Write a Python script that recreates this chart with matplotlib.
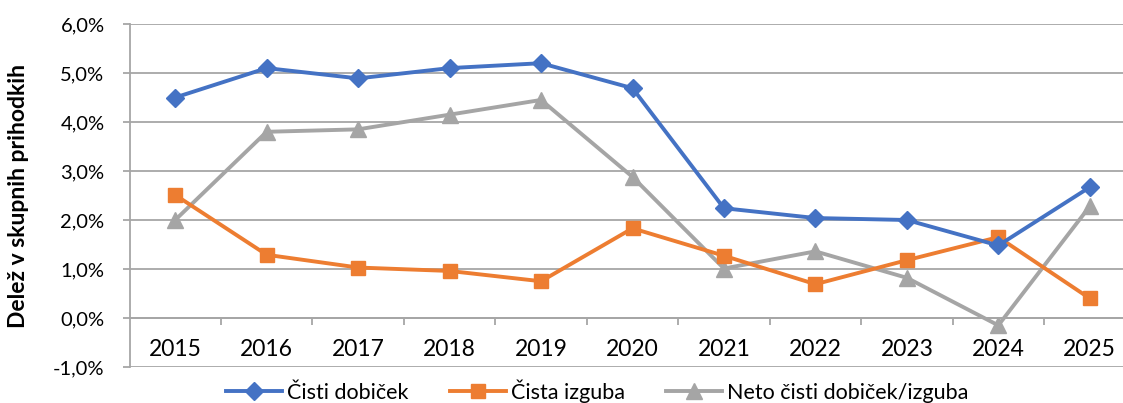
import matplotlib
matplotlib.use("Agg")
import matplotlib.pyplot as plt
from matplotlib.ticker import FixedLocator, FuncFormatter

years = ["2015", "2016", "2017", "2018", "2019", "2020", "2021", "2022", "2023", "2024", "2025"]
cisti_dobicek = [4.50, 5.10, 4.89, 5.10, 5.20, 4.69, 2.24, 2.04, 2.00, 1.48, 2.67]
cista_izguba = [2.51, 1.29, 1.03, 0.96, 0.75, 1.83, 1.27, 0.69, 1.18, 1.65, 0.40]
neto = [2.00, 3.80, 3.85, 4.15, 4.45, 2.88, 1.01, 1.36, 0.82, -0.15, 2.28]
series_names = ["Čisti dobiček", "Čista izguba", "Neto čisti dobiček/izguba"]
ylabel = "Delež v skupnih prihodkih"

plt.rcParams['font.family'] = ['Lato', 'DejaVu Sans']

W, H = 1123, 403
fig = plt.figure(figsize=(W / 100, H / 100), dpi=100)
left, right, top, bottom = 129.5, 1135.5, 24, 367
ax = fig.add_axes([left / W, 1 - bottom / H, (right - left) / W, (bottom - top) / H])

x = list(range(len(years)))
blue, orange, gray = "#4472C4", "#ED7D31", "#A5A5A5"
ax.plot(x, cisti_dobicek, color=blue, lw=2.8, marker="D", ms=9, label=series_names[0], zorder=5)
ax.plot(x, cista_izguba, color=orange, lw=2.8, marker="s", ms=10.5, label=series_names[1], zorder=4)
ax.plot(x, neto, color=gray, lw=2.8, marker="^", ms=12, label=series_names[2], zorder=3)

ax.set_xlim(-0.5, len(years) - 0.5)
ax.set_ylim(-1, 6)
yt = [-1, 0, 1, 2, 3, 4, 5, 6]
ax.yaxis.set_major_locator(FixedLocator(yt))
ax.yaxis.set_major_formatter(FuncFormatter(lambda v, p: f"{v:.1f}%".replace(".", ",")))
ax.grid(axis="y", color="#A6A6A6", lw=1.3)
ax.set_axisbelow(True)

for s in ["top", "right"]:
    ax.spines[s].set_visible(False)
ax.spines["left"].set_color("#A6A6A6")
ax.spines["left"].set_linewidth(1.3)
ax.spines["bottom"].set_position(("data", 0))
ax.spines["bottom"].set_color("#A6A6A6")
ax.spines["bottom"].set_linewidth(1.3)

ax.set_xticks(x)
ax.set_xticklabels(years)
ax.set_xticks([i + 0.5 for i in x[:-1]], minor=True)
ax.tick_params(axis="x", which="major", length=0, pad=15, labelsize=16.5)
ax.tick_params(axis="x", which="minor", length=5, width=1.3, color="#A6A6A6")
ax.tick_params(axis="y", which="major", length=5, width=1.3, color="#A6A6A6", pad=13, labelsize=14.5)

fig.text(19 / W, 1 - 196 / H, ylabel, rotation=90, ha="center", va="center",
         fontsize=16.5, fontweight="bold")

fig.legend(loc="center", bbox_to_anchor=(597.5 / W, 1 - 391 / H), ncol=3, frameon=False,
           fontsize=15.5, handlelength=2.6, handletextpad=0.25, columnspacing=1.9,
           borderpad=0.1)

fig.savefig("out.png", dpi=100)
